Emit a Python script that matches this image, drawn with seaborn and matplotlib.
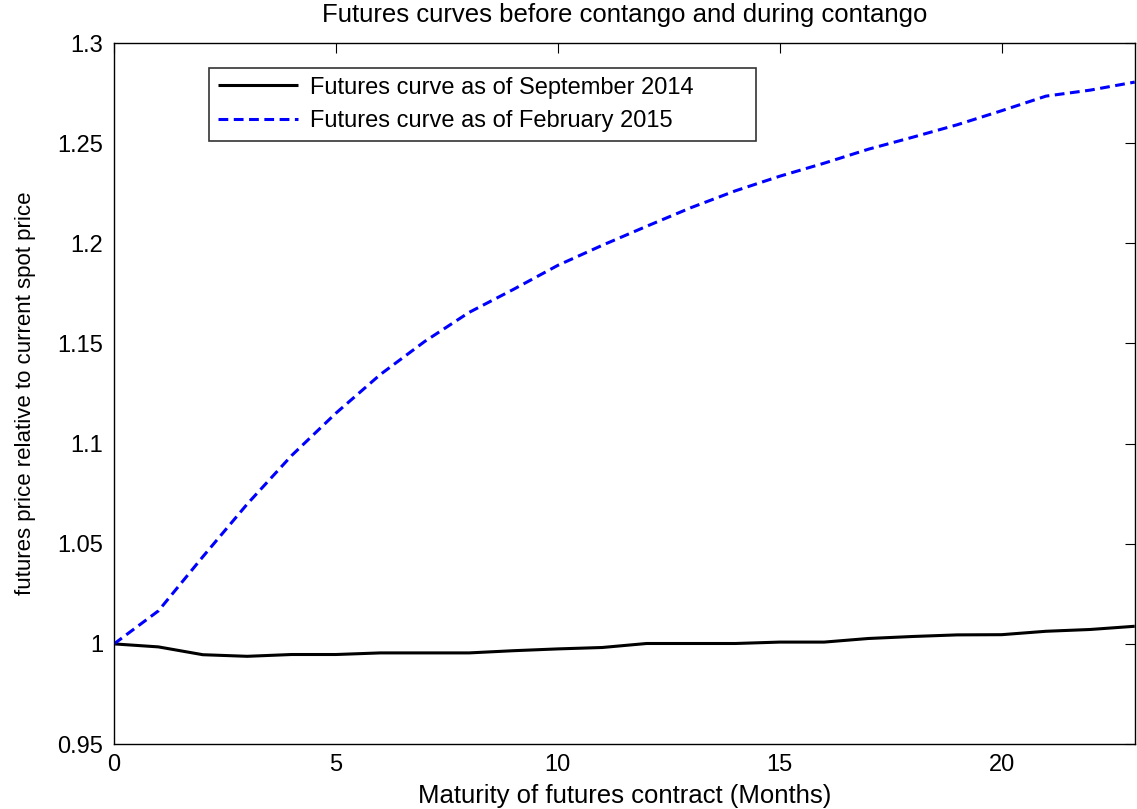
import numpy as np
import pandas as pd
import matplotlib
matplotlib.use("Agg")
import matplotlib.pyplot as plt
import seaborn as sns
from matplotlib.ticker import FixedLocator, FixedFormatter

# Maturity in months and futures price relative to current spot
months = list(range(24))
sep_2014 = [1.0, 0.9985, 0.9946, 0.9938, 0.9947, 0.9947, 0.9955, 0.9955,
            0.9955, 0.9966, 0.9975, 0.9982, 1.0002, 1.0002, 1.0002, 1.0009,
            1.0009, 1.0027, 1.0037, 1.0045, 1.0046, 1.0063, 1.0072, 1.0088]
feb_2015 = [1.0, 1.0165, 1.0435, 1.0698, 1.0940, 1.1152, 1.1345, 1.1510,
            1.1655, 1.1770, 1.1890, 1.1990, 1.2085, 1.2178, 1.2262, 1.2335,
            1.2400, 1.2470, 1.2530, 1.2592, 1.2662, 1.2735, 1.2765, 1.2805]
series_names = ["Futures curve as of September 2014",
                "Futures curve as of February 2015"]
y_ticks = [0.95, 1.0, 1.05, 1.1, 1.15, 1.2, 1.25, 1.3]
y_tick_labels = ["0.95", "1", "1.05", "1.1", "1.15", "1.2", "1.25", "1.3"]
x_ticks = [0, 5, 10, 15, 20]

sns.set_theme(style="white")
plt.rcParams["font.family"] = ["Liberation Sans", "DejaVu Sans"]
plt.rcParams["font.size"] = 17
plt.rcParams["text.color"] = "black"

df = pd.DataFrame({
    "month": months * 2,
    "price": sep_2014 + feb_2015,
    "curve": [series_names[0]] * len(months) + [series_names[1]] * len(months),
})

fig = plt.figure(figsize=(11.37, 8.09), dpi=100)
ax = fig.add_axes([0.1003, 0.0803, 0.8977, 0.8665])

sns.lineplot(data=df, x="month", y="price", hue="curve", style="curve",
             palette=["black", "#0000ff"], dashes=[(1, 0), (3.2, 1.8)],
             linewidth=2.2, ax=ax)

ax.set_xlim(0, 23)
ax.set_ylim(0.95, 1.3)
ax.xaxis.set_major_locator(FixedLocator(x_ticks))
ax.yaxis.set_major_locator(FixedLocator(y_ticks))
ax.yaxis.set_major_formatter(FixedFormatter(y_tick_labels))
ax.tick_params(direction="in", length=7, width=0.8, color="black",
               top=True, right=True, labelsize=17, labelcolor="black")
ax.tick_params(axis="y", pad=8)
ax.tick_params(axis="x", pad=7)
for s in ax.spines.values():
    s.set_color("black")
    s.set_linewidth(1.0)
    s.set_visible(True)

ax.set_title("Futures curves before contango and during contango",
             fontsize=18.5, pad=15, color="black")
ax.set_xlabel("Maturity of futures contract (Months)", fontsize=18.5,
              labelpad=6, color="black")
ax.set_ylabel("futures price relative to current spot price", fontsize=16,
              labelpad=15, color="black")

handles, labels = ax.get_legend_handles_labels()
leg = ax.legend(handles, [lab + "        " for lab in labels],
                loc="upper left", bbox_to_anchor=(0.093, 0.965), fontsize=17,
                frameon=True, fancybox=False, edgecolor="black",
                handlelength=3.4, borderpad=0.38, labelspacing=0.5,
                handletextpad=0.5, borderaxespad=0)
leg.get_frame().set_linewidth(1.2)
for t in leg.get_texts():
    t.set_color("black")

fig.savefig("out.png", dpi=100, facecolor="white")
